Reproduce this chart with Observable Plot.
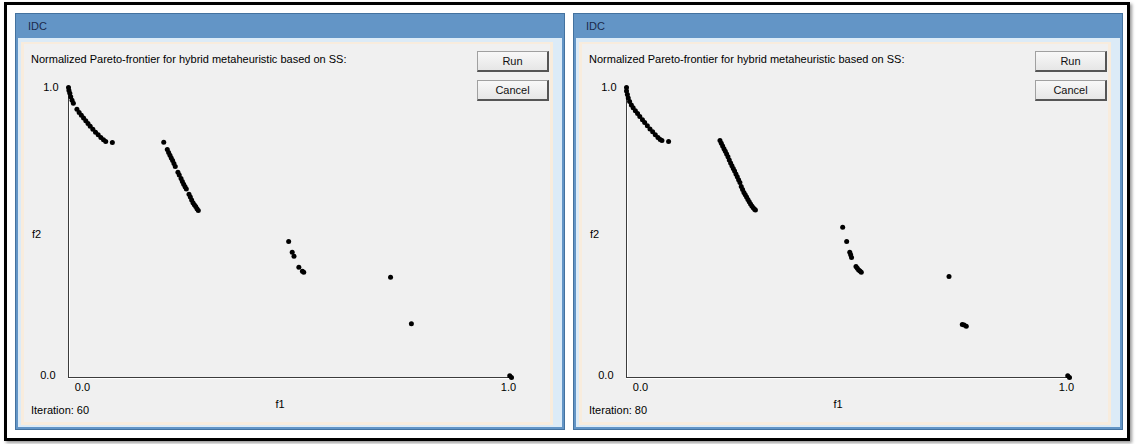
<!DOCTYPE html>
<html>
<head>
<meta charset="utf-8">
<script src="https://cdn.jsdelivr.net/npm/d3@7"></script>
<script src="https://cdn.jsdelivr.net/npm/@observablehq/plot@0.6"></script>
<style>
  html, body { margin: 0; padding: 0; background: #fff; }
  body { width: 1139px; height: 444px; position: relative; overflow: hidden;
         font-family: "Liberation Sans", Arial, sans-serif; font-size: 11px; color: #000; }
  .abs { position: absolute; box-sizing: border-box; }
  .frame { border: 3px solid #000; box-shadow: 2px 2px 3px #9a9a9a; }
  .win { background: #6395c6; border: 1px solid #44729f; }
  .title { color: #1b2b4b; font-size: 11px; line-height: 14px; }
  .inner { background: #dcebf7; }
  .client { background: #f0f0f0; border: 3px solid #f8ecdd; border-top-width: 2px; }
  .txt { line-height: 14px; white-space: nowrap; }
  .btn { background: linear-gradient(#f8f8f8, #e6e6e6); border: 1px solid #a0a0a0;
         border-right: 2px solid #555; border-bottom: 2px solid #555;
         text-align: center; line-height: 18px; font-size: 11px; color: #111; }
</style>
</head>
<body>
<script>
// ---- data (normalized objectives) ----
const panelTitles = ["IDC", "IDC"];
const heading = "Normalized Pareto-frontier for hybrid metaheuristic based on SS:";
const iterationLabels = ["Iteration: 60", "Iteration: 80"];
const buttonLabels = ["Run", "Cancel"];
const xTickLabels = ["0.0", "1.0"];
const yTickLabels = ["0.0", "1.0"];

// Iteration 60
const iter60_f1 = [
  0.000,0.001,0.003,0.005,0.008,0.011,0.019,0.024,0.029,0.034,0.039,0.044,0.049,0.055,0.061,0.067,0.073,0.079,0.084,0.099,
  0.215,0.223,0.226,0.229,0.232,0.235,0.238,0.241,0.247,0.250,0.254,0.257,0.260,0.263,0.266,0.272,0.275,0.278,0.281,0.284,0.287,0.290,0.293,
  0.497,0.505,0.509,0.520,0.528,0.531,0.727,0.774,0.996,1.000
];
const iter60_f2 = [
  1.000,0.990,0.980,0.968,0.956,0.946,0.925,0.914,0.904,0.895,0.885,0.876,0.866,0.856,0.846,0.837,0.828,0.820,0.814,0.810,
  0.811,0.786,0.776,0.766,0.757,0.748,0.738,0.728,0.708,0.698,0.686,0.676,0.666,0.658,0.650,0.632,0.622,0.612,0.603,0.596,0.590,0.582,0.576,
  0.469,0.432,0.418,0.380,0.366,0.363,0.346,0.185,0.006,0.000
];

// Iteration 80
const iter80_f1 = [
  0.000,0.000,0.002,0.004,0.007,0.011,0.015,0.020,0.025,0.030,0.036,0.041,0.047,0.053,0.059,0.065,0.071,0.076,0.080,0.095,
  0.211,0.214,0.217,0.220,0.223,0.226,0.229,0.232,0.235,0.238,0.241,0.244,0.247,0.250,0.253,0.256,0.259,0.262,0.265,0.268,0.271,0.274,0.277,0.280,0.283,0.286,0.289,0.291,
  0.488,0.497,0.504,0.506,0.508,0.518,0.521,0.524,0.527,0.530,0.728,0.758,0.762,0.767,0.996,1.000
];
const iter80_f2 = [
  1.000,0.988,0.976,0.964,0.952,0.940,0.930,0.920,0.910,0.900,0.889,0.879,0.868,0.857,0.847,0.837,0.828,0.821,0.817,0.814,
  0.817,0.808,0.798,0.789,0.780,0.771,0.761,0.750,0.740,0.730,0.721,0.712,0.702,0.692,0.682,0.672,0.659,0.648,0.638,0.630,0.622,0.614,0.606,0.598,0.591,0.585,0.580,0.578,
  0.518,0.469,0.432,0.423,0.414,0.383,0.377,0.371,0.367,0.363,0.348,0.183,0.181,0.177,0.006,0.000
];

const panels = [
  {offset: 0,   f1: iter60_f1, f2: iter60_f2, iter: iterationLabels[0], title: panelTitles[0]},
  {offset: 558, f1: iter80_f1, f2: iter80_f2, iter: iterationLabels[1], title: panelTitles[1]}
];

function box(cls, left, top, width, height, text) {
  const d = document.createElement("div");
  d.className = "abs " + cls;
  d.style.left = left + "px"; d.style.top = top + "px";
  if (width != null) d.style.width = width + "px";
  if (height != null) d.style.height = height + "px";
  if (text != null) d.textContent = text;
  document.body.appendChild(d);
  return d;
}

// outer black frame
box("frame", 4, 2, 1126, 439);

for (const p of panels) {
  const o = p.offset;
  box("win", 15 + o, 13, 550, 417);
  box("title", 28 + o, 19, null, null, p.title);
  box("inner", 18 + o, 38, 544, 389);
  box("client", 21 + o, 42, 532, 383);
  box("txt", 31 + o, 52, null, null, heading);
  box("btn", 477 + o, 51, 72, 21, buttonLabels[0]);
  box("btn", 477 + o, 80, 72, 21, buttonLabels[1]);

  const data = p.f1.map((v, i) => ({f1: v, f2: p.f2[i]}));
  const chart = Plot.plot({
    width: 532, height: 350,
    marginLeft: 47, marginRight: 42, marginTop: 17, marginBottom: 43,
    x: {domain: [0, 1], label: null},
    y: {domain: [0, 1], label: null},
    style: {background: "transparent", fontFamily: "Liberation Sans, Arial, sans-serif", fontSize: "11px", color: "#000", overflow: "visible"},
    marks: [
      Plot.ruleX([0], {stroke: "#ffffff", dx: 1, y1: 0, y2: 1, strokeOpacity: 1}),
      Plot.ruleY([0], {stroke: "#ffffff", dy: 1, x1: 0, x2: 1, strokeOpacity: 1}),
      Plot.ruleX([0], {stroke: "#3c3c3c", y1: 0, y2: 1}),
      Plot.ruleY([0], {stroke: "#3c3c3c", x1: 0, x2: 1}),
      Plot.axisX([0], {tickSize: 0, tickPadding: 6, tickFormat: () => xTickLabels[0], dx: 14, label: null}),
      Plot.axisX([1], {tickSize: 0, tickPadding: 6, tickFormat: () => xTickLabels[1], dx: -3, label: null}),
      Plot.axisY([1], {tickSize: 0, tickPadding: 10, tickFormat: () => yTickLabels[1], label: null}),
      Plot.axisY([0], {tickSize: 0, tickPadding: 13, tickFormat: () => yTickLabels[0], dy: -2, label: null}),
      Plot.dot(data, {x: "f1", y: "f2", r: 2.5, fill: "#000", stroke: "none"})
    ]
  });
  chart.style.position = "absolute";
  chart.style.left = (21 + o) + "px";
  chart.style.top = "70px";
  document.body.appendChild(chart);

  box("txt", 32 + o, 227, null, null, "f2");
  const f1 = box("txt", 272 + o, 397, 16, null, "f1");
  f1.style.textAlign = "center";
  box("txt", 31 + o, 403, null, null, p.iter);
}
</script>
</body>
</html>
